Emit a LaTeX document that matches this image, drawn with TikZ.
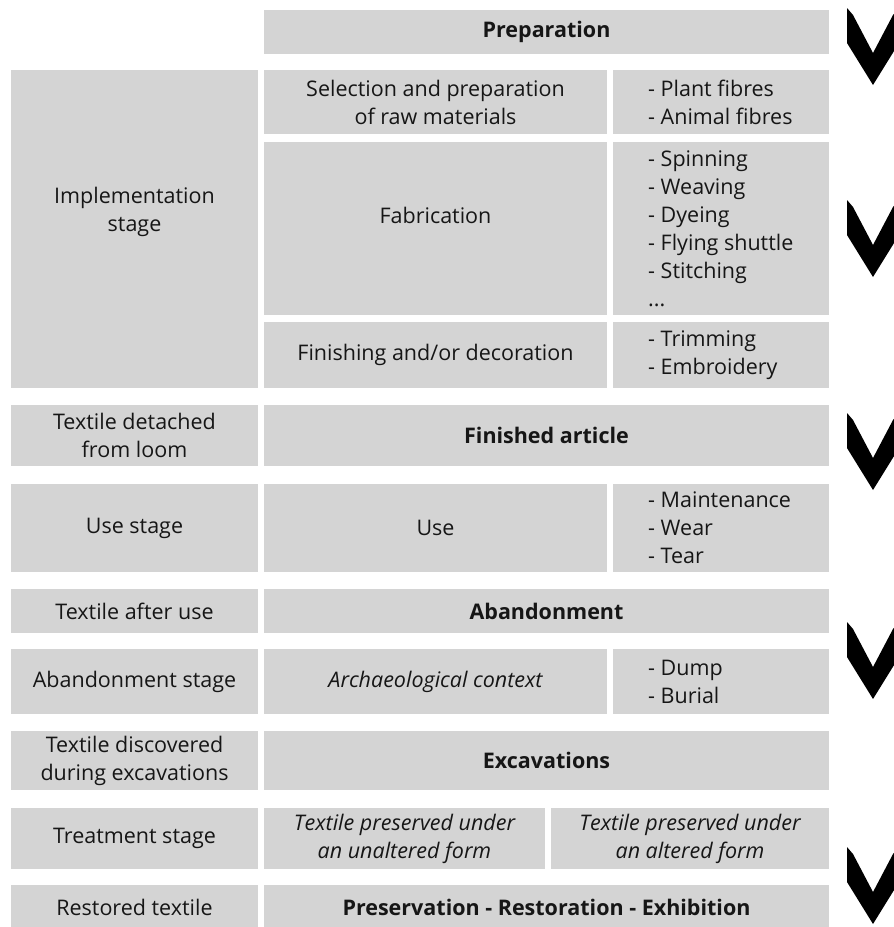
\documentclass[tikz,border=0pt]{standalone}
\usepackage{fontspec}
\setmainfont{Open Sans}
\usepackage{xcolor}
\definecolor{boxgray}{RGB}{212,212,212}
\definecolor{textgray}{RGB}{22,22,22}

\begin{document}
\begin{tikzpicture}[x=1pt, y=-1pt,
    cell/.style={fill=boxgray, inner sep=0pt, outer sep=0pt, align=center, text=textgray, font=\fontsize{21.5}{28}\selectfont},
    txt/.style={inner sep=0pt, align=center, text=textgray, font=\fontsize{21.5}{28}\selectfont},
    listtxt/.style={txt, align=left, anchor=west},
    colA/.style={minimum width=247pt},
    colB/.style={minimum width=343pt},
    colC/.style={minimum width=216pt},
    colBC/.style={minimum width=565pt},
    chevron/.style={fill=black}]
    \useasboundingbox[fill=white] (0,0) rectangle (894,927);

    \node[cell, colBC, minimum height=44pt] (prep) at (546.5,32) {\bfseries Preparation};

    \node[cell, colA, minimum height=318pt] (impl) at (134.5,229) {};
    \node[txt] (impltxt) at (134.5,212) {Implementation\\stage};
    \node[cell, colB, minimum height=64pt] (select) at (435.5,102) {Selection and preparation\\of raw materials};
    \node[cell, colC, minimum height=64pt] (fibres) at (721,102) {};
    \node[listtxt] (fibrestxt) at ([xshift=35pt]fibres.west) {- Plant fibres\\- Animal fibres};
    \node[cell, colB, minimum height=173pt] (fabric) at (435.5,228.5) {};
    \node[txt] (fabrictxt) at (435.5,215) {Fabrication};
    \node[cell, colC, minimum height=173pt] (techniques) at (721,228.5) {};
    \node[listtxt] (techniquestxt) at ([xshift=35pt]techniques.west) {- Spinning\\- Weaving\\- Dyeing\\- Flying shuttle\\- Stitching\\...};
    \node[cell, colB, minimum height=66pt] (finish) at (435.5,355) {Finishing and/or decoration};
    \node[cell, colC, minimum height=66pt] (trim) at (721,355) {};
    \node[listtxt] (trimtxt) at ([xshift=35pt]trim.west) {- Trimming\\- Embroidery};

    \node[cell, colA, minimum height=61pt] (detached) at (134.5,435.5) {Textile detached\\from loom};
    \node[cell, colBC, minimum height=61pt] (finished) at (546.5,435.5) {\bfseries Finished article};

    \node[cell, colA, minimum height=88pt] (usestage) at (134.5,528) {Use stage};
    \node[cell, colB, minimum height=88pt] (use) at (435.5,528) {Use};
    \node[cell, colC, minimum height=88pt] (wear) at (721,528) {};
    \node[listtxt] (weartxt) at ([xshift=35pt]wear.west) {- Maintenance\\- Wear\\- Tear};

    \node[cell, colA, minimum height=44pt] (afteruse) at (134.5,611) {Textile after use};
    \node[cell, colBC, minimum height=44pt] (abandon) at (546.5,611) {\bfseries Abandonment};

    \node[cell, colA, minimum height=65pt] (abstage) at (134.5,681.5) {Abandonment stage};
    \node[cell, colB, minimum height=65pt] (context) at (435.5,681.5) {\itshape Archaeological context};
    \node[cell, colC, minimum height=65pt] (dump) at (721,681.5) {};
    \node[listtxt] (dumptxt) at ([xshift=35pt]dump.west) {- Dump\\- Burial};

    \node[cell, colA, minimum height=59pt] (discover) at (134.5,760.5) {Textile discovered\\during excavations};
    \node[cell, colBC, minimum height=59pt] (excav) at (546.5,760.5) {\bfseries Excavations};

    \node[cell, colA, minimum height=61pt] (treat) at (134.5,838.5) {Treatment stage};
    \node[cell, minimum width=281pt, minimum height=61pt] (unaltered) at (404.5,838.5) {\itshape Textile preserved under\\\itshape an unaltered form};
    \node[cell, minimum width=278pt, minimum height=61pt] (altered) at (690,838.5) {\itshape Textile preserved under\\\itshape an altered form};

    \node[cell, colA, minimum height=44pt] (restored) at (134.5,907) {Restored textile};
    \node[cell, colBC, minimum height=44pt] (preserve) at (546.5,907) {\bfseries Preservation - Restoration - Exhibition};

    \foreach \t in {8,200,413,622,847}
        \fill[chevron] (847,\t) -- (853,\t+7) -- (873,\t+45) -- (893,\t+7) -- (899,\t)
            -- (899,\t+35) -- (873,\t+77) -- (847,\t+35) -- cycle;
\end{tikzpicture}
\end{document}
